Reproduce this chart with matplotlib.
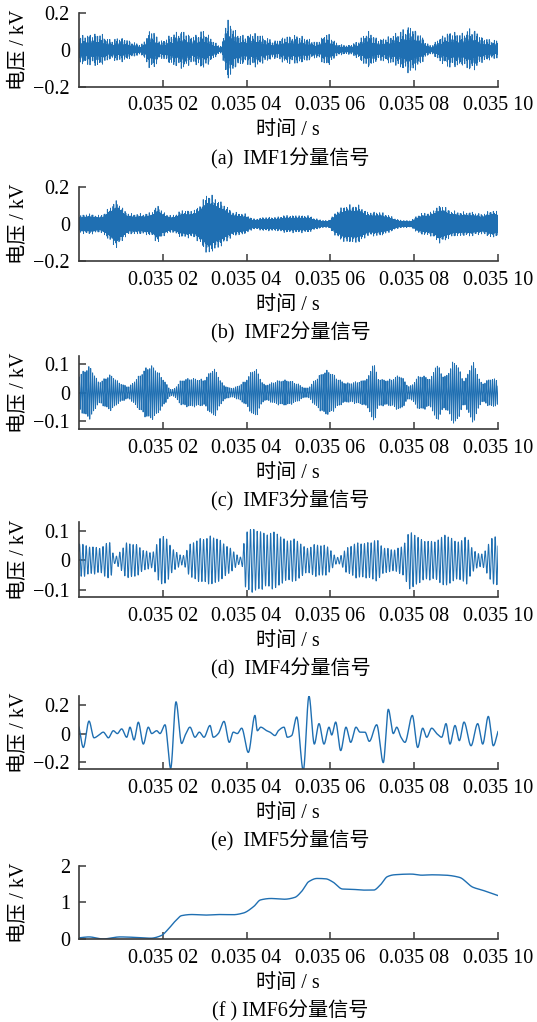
import numpy as np
import matplotlib.pyplot as plt

plt.rcParams['font.family'] = ['Liberation Serif', 'Noto Sans CJK SC']
plt.rcParams['font.size'] = 14.5
plt.rcParams['axes.unicode_minus'] = True

LINE = '#1f6fb2'
AXC = '#3a3a3a'
FS = 14.5

# time axis: microseconds after 0.035 s
xtick_us = [20, 40, 60, 80, 100]
xtick_labels = ['0.035 02', '0.035 04', '0.035 06', '0.035 08', '0.035 10']

# IMF1-IMF4: envelope knots (us, kV) and carrier cycles over the window
imf1_us = [0, 2.5, 4.9, 7.4, 9.9, 12.3, 14.8, 17.3, 19.7, 22.2, 24.7, 27.1, 29.6, 32.1, 34.0,
           35.2, 36.4, 37.9, 39.5, 41.9, 44.4, 46.9, 49.3, 51.8, 54.3, 56.7, 59.2, 61.7, 64.1,
           66.6, 69.1, 71.5, 74.0, 76.5, 78.9, 81.4, 83.9, 86.3, 88.8, 91.3, 93.7, 96.2, 98.6, 100]
imf1_env = [0.076, 0.086, 0.09, 0.057, 0.067, 0.048, 0.03, 0.11, 0.05, 0.086, 0.105, 0.076, 0.105,
            0.05, 0.02, 0.17, 0.14, 0.09, 0.08, 0.095, 0.07, 0.05, 0.075, 0.08, 0.065, 0.045, 0.09,
            0.035, 0.025, 0.05, 0.1, 0.06, 0.075, 0.1, 0.13, 0.085, 0.025, 0.07, 0.1, 0.09, 0.12,
            0.07, 0.055, 0.05]

imf2_us = [0, 2.5, 4.9, 7.4, 9.1, 9.9, 12.3, 14.8, 17.3, 18.9, 19.7, 22.2, 24.7, 27.1, 29.6,
           30.8, 32.1, 34.5, 37.0, 39.5, 41.9, 44.4, 46.9, 49.3, 51.8, 54.3, 56.7, 59.2, 61.7,
           64.1, 66.6, 69.1, 71.5, 74.0, 76.5, 78.9, 81.4, 83.9, 86.3, 88.8, 91.3, 93.7, 96.2,
           98.6, 100]
imf2_env = [0.048, 0.057, 0.048, 0.095, 0.133, 0.105, 0.057, 0.057, 0.067, 0.105, 0.076, 0.048,
            0.076, 0.076, 0.133, 0.171, 0.152, 0.114, 0.067, 0.057, 0.029, 0.038, 0.038, 0.048,
            0.048, 0.048, 0.029, 0.019, 0.076, 0.105, 0.105, 0.067, 0.067, 0.048, 0.023, 0.019,
            0.057, 0.067, 0.105, 0.076, 0.067, 0.067, 0.057, 0.076, 0.067]

imf3_us = [0, 2.5, 4.9, 7.4, 9.9, 11.7, 14.1, 17.3, 19.7, 22.2, 24.7, 27.1, 29.6, 32.1, 34.5,
           36.4, 39.5, 41.9, 44.4, 46.9, 49.3, 51.8, 54.3, 56.7, 59.2, 61.7, 64.1, 66.6, 69.1,
           70.2, 71.5, 74.0, 76.5, 78.9, 81.4, 83.9, 85.3, 87.3, 89.7, 92.0, 94.0, 96.2, 98.6, 100]
imf3_env = [0.065, 0.095, 0.042, 0.065, 0.036, 0.024, 0.06, 0.101, 0.06, 0.012, 0.048, 0.054,
            0.048, 0.089, 0.03, 0.018, 0.042, 0.089, 0.03, 0.042, 0.048, 0.036, 0.018, 0.054,
            0.083, 0.054, 0.036, 0.042, 0.06, 0.113, 0.054, 0.048, 0.065, 0.024, 0.065, 0.054,
            0.107, 0.06, 0.119, 0.048, 0.113, 0.036, 0.054, 0.048]

imf4_us = [0, 2.5, 4.9, 7.4, 8.5, 9.9, 11.7, 13.7, 15.7, 17.3, 20.0, 22.2, 24.7, 26.8, 29.6,
           32.1, 34.5, 37.2, 38.7, 39.9, 41.9, 44.4, 46.9, 49.3, 51.8, 54.3, 56.7, 59.2, 61.7,
           64.1, 66.6, 69.1, 70.6, 73.0, 75.3, 77.0, 79.3, 81.4, 83.9, 86.3, 87.3, 88.8, 91.3,
           92.4, 93.7, 96.2, 98.0, 100]
imf4_env = [0.062, 0.05, 0.045, 0.067, 0.011, 0.034, 0.062, 0.056, 0.034, 0.028, 0.09, 0.045,
            0.017, 0.062, 0.078, 0.084, 0.062, 0.028, 0.011, 0.106, 0.112, 0.095, 0.101, 0.073,
            0.073, 0.045, 0.056, 0.05, 0.011, 0.045, 0.062, 0.062, 0.073, 0.045, 0.039, 0.05,
            0.101, 0.078, 0.067, 0.078, 0.095, 0.078, 0.067, 0.09, 0.045, 0.022, 0.067, 0.095]

carrier_cycles = [900, 520, 220, 125]
# bursts of taller cycles riding on each carrier, and how much they stand out
burst_count = [170, 140, 60, 40]
burst_depth = [0.65, 0.35, 0.15, 0.1]

# IMF5: turning points (us, kV)
imf5_us = [0.0, 1.03, 2.39, 3.58, 4.61, 5.80, 7.00, 8.19, 9.14, 10.18, 11.38, 12.17, 13.13, 14.16,
           15.35, 16.54, 17.35, 18.54, 19.33, 20.53, 21.88, 23.15, 24.50, 25.30, 26.49, 27.68,
           28.72, 29.83, 31.26, 32.05, 33.25, 34.61, 35.87, 36.83, 37.78, 38.83, 40.41, 42.00,
           42.56, 43.37, 44.80, 45.58, 46.78, 47.57, 48.93, 49.71, 50.76, 51.96, 53.53, 54.89,
           56.16, 57.28, 58.47, 59.67, 60.31, 61.26, 62.46, 63.72, 64.84, 66.11, 67.06, 68.26,
           69.28, 71.05, 72.62, 73.82, 75.01, 75.82, 76.85, 77.80, 79.55, 80.83, 82.03, 82.98,
           84.18, 85.37, 86.56, 87.59, 88.54, 89.74, 90.77, 91.89, 93.56, 95.15, 96.35, 97.69,
           98.88, 100.0]
imf5_kv = [0.045, -0.098, 0.088, -0.03, -0.014, 0.01, -0.03, 0.02, 0.0, 0.033, -0.026, 0.045,
           -0.045, 0.08, -0.074, 0.045, 0.0, 0.02, 0.0, 0.062, -0.245, 0.224, -0.07, -0.014, 0.045,
           -0.026, 0.01, -0.026, 0.057, -0.026, 0.0, 0.086, -0.062, 0.01, 0.0, 0.038, -0.133,
           0.128, 0.02, 0.045, 0.02, 0.01, -0.014, 0.02, 0.045, -0.026, -0.014, 0.117, -0.26,
           0.264, -0.074, 0.07, -0.074, 0.045, -0.01, 0.081, -0.12, 0.045, -0.062, 0.045, 0.01,
           0.01, -0.055, 0.062, -0.205, 0.171, 0.0, 0.045, -0.026, -0.062, 0.128, -0.098, 0.038,
           -0.026, 0.038, 0.0, -0.026, 0.07, -0.074, 0.057, -0.05, 0.081, -0.086, 0.07, -0.074,
           0.121, -0.086, 0.014]

# IMF6: trend (us, kV)
imf6_us = [0, 2.4, 5.7, 9.8, 13.9, 17.1, 19.6, 21.2, 22.9, 24.5, 26.9, 30.2, 33.5, 36.8, 39.2,
           41.7, 43.3, 45.8, 49.0, 51.5, 53.1, 54.8, 56.8, 58.9, 60.5, 62.9, 65.4, 67.9, 70.3,
           71.9, 73.6, 75.2, 79.3, 81.8, 84.2, 87.5, 90.8, 94.0, 96.5, 100]
imf6_kv = [0.02, 0.045, -0.01, 0.045, 0.03, 0.01, 0.08, 0.245, 0.47, 0.63, 0.66, 0.645, 0.66,
           0.655, 0.7, 0.88, 1.06, 1.1, 1.08, 1.13, 1.29, 1.56, 1.65, 1.64, 1.56, 1.36, 1.35,
           1.33, 1.33, 1.47, 1.7, 1.75, 1.77, 1.74, 1.75, 1.74, 1.68, 1.41, 1.32, 1.18]

captions = ['(a)  IMF1分量信号', '(b)  IMF2分量信号', '(c)  IMF3分量信号',
            '(d)  IMF4分量信号', '(e)  IMF5分量信号', '(f ) IMF6分量信号']
yticks = [[-0.2, 0, 0.2], [-0.2, 0, 0.2], [-0.1, 0, 0.1], [-0.1, 0, 0.1], [-0.2, 0, 0.2], [0, 1, 2]]
ylims = [(-0.2, 0.2), (-0.2, 0.2), (-0.13, 0.13), (-0.125, 0.13), (-0.25, 0.265), (-0.02, 2.0)]


def pchip(x, y, xq):
    x = np.asarray(x, float)
    y = np.asarray(y, float)
    h = np.diff(x)
    d = np.diff(y) / h
    m = np.zeros_like(y)
    m[0], m[-1] = d[0], d[-1]
    for k in range(1, len(x) - 1):
        if d[k - 1] * d[k] > 0:
            w1 = 2 * h[k] + h[k - 1]
            w2 = h[k] + 2 * h[k - 1]
            m[k] = (w1 + w2) / (w1 / d[k - 1] + w2 / d[k])
    i = np.clip(np.searchsorted(x, xq) - 1, 0, len(x) - 2)
    s = (xq - x[i]) / h[i]
    h00 = 2 * s**3 - 3 * s**2 + 1
    h10 = s**3 - 2 * s**2 + s
    h01 = -2 * s**3 + 3 * s**2
    h11 = s**3 - s**2
    return h00 * y[i] + h10 * h[i] * m[i] + h01 * y[i + 1] + h11 * h[i] * m[i + 1]


u = np.linspace(0, 100, 30001)
signals = []
for (us, env), cyc, nb, dep in zip([(imf1_us, imf1_env), (imf2_us, imf2_env),
                                    (imf3_us, imf3_env), (imf4_us, imf4_env)],
                                   carrier_cycles, burst_count, burst_depth):
    e = pchip(us, env, u)
    bursts = np.abs(np.sin(np.pi * nb * u / 100)) ** 4 \
        * (0.55 + 0.45 * np.abs(np.sin(np.pi * 0.37 * nb * u / 100)))
    mod = (1 - dep) + dep * bursts
    signals.append((u, e * mod * np.sin(2 * np.pi * cyc * u / 100 + 0.6)))

u5 = np.linspace(0, 100, 4001)
signals.append((u5, pchip(imf5_us, imf5_kv, u5)))
signals.append((u5, pchip(imf6_us, imf6_kv, u5)))

fig = plt.figure(figsize=(5.37, 10.22), dpi=100)
H = 1022.0
tops = [12.7, 187, 356, 522, 696, 865.7]
bottoms = [86.7, 261, 429.3, 597.3, 769, 939.3]
left, right = 79, 498
widths = [0.6, 0.6, 0.65, 0.75, 1.0, 1.0]

for k in range(6):
    ax = fig.add_axes([left / 537, 1 - bottoms[k] / H, (right - left) / 537,
                       (bottoms[k] - tops[k]) / H])
    x, y = signals[k]
    ax.plot(x, y, color=LINE, lw=widths[k])
    ax.set_xlim(0, 100)
    ax.set_ylim(*ylims[k])
    ax.set_xticks(xtick_us)
    ax.set_xticklabels(xtick_labels)
    ax.set_yticks(yticks[k])
    ax.set_yticklabels(['0' if v == 0 else f'{v:g}'.replace('-', '\u2212') for v in yticks[k]])
    for side in ['top', 'right']:
        ax.spines[side].set_visible(False)
    for side in ['left', 'bottom']:
        ax.spines[side].set_color(AXC)
        ax.spines[side].set_linewidth(1.2)
    ax.tick_params(direction='in', length=5, width=1.1, color=AXC, labelsize=FS)
    ax.tick_params(axis='x', pad=7)
    ax.tick_params(axis='y', pad=6.5)

    ax.set_ylabel('电压 / kV', fontsize=FS)
    ax.yaxis.set_label_coords(-0.12, 0.5)
    ax.set_xlabel('时间 / s', fontsize=FS)
    ax.xaxis.set_label_coords(0.537, 1 - (bottoms[k] + 44) / H, transform=fig.transFigure)
    ax.xaxis.label.set_va('center')
    fig.text(0.541, 1 - (bottoms[k] + 72) / H, captions[k], ha='center', va='center', fontsize=FS)

fig.savefig('out.png', dpi=100)
